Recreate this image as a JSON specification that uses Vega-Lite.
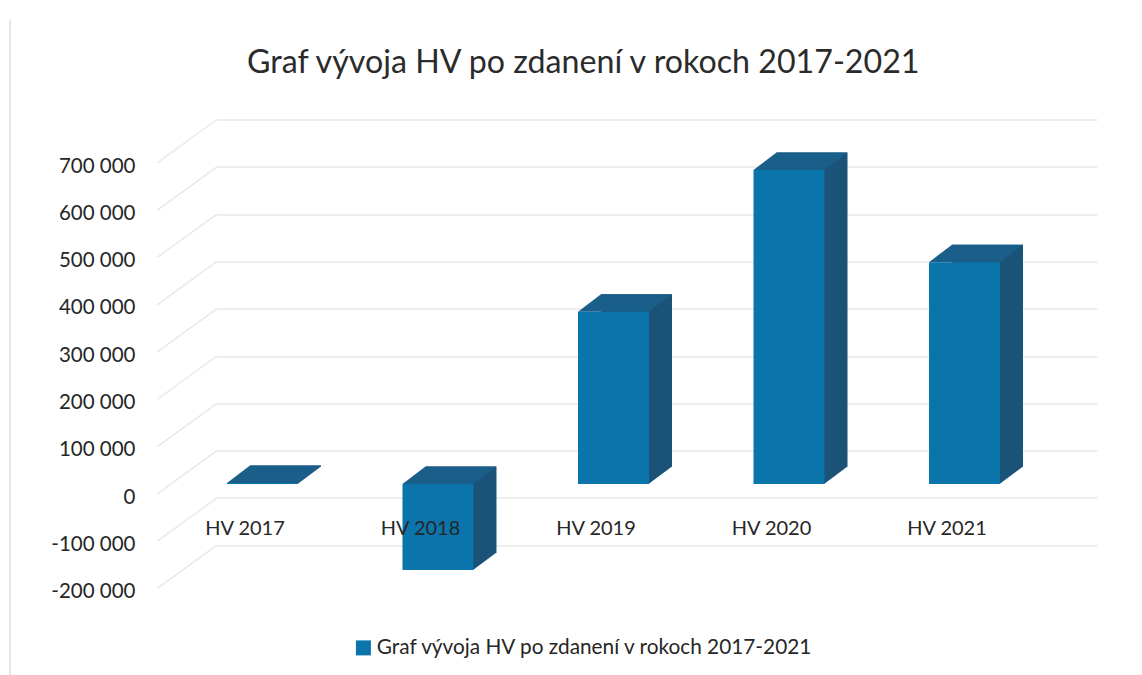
{
"$schema":"https://vega.github.io/schema/vega-lite/v6.json",
"autosize":"none",
"width":880,"height":425.7,
"padding":{"left":217,"top":119.5,"right":45,"bottom":129.8},
"background":"white",
"config":{"view":{"stroke":null},"font":"Lato"},
"title":{"text":"Graf vývoja HV po zdanení v rokoch 2017-2021","font":"Lato","fontSize":32.2,"fontWeight":"normal","color":"#2b2b2b","anchor":"start","frame":"group","dx":30,"offset":-65},
"data":{"values":[
{"label":"HV 2017","value":2000,"top":2000,"bottom":0,"series":"Graf vývoja HV po zdanení v rokoch 2017-2021"},
{"label":"HV 2018","value":-182000,"top":0,"bottom":-182000,"series":"Graf vývoja HV po zdanení v rokoch 2017-2021"},
{"label":"HV 2019","value":364000,"top":364000,"bottom":0,"series":"Graf vývoja HV po zdanení v rokoch 2017-2021"},
{"label":"HV 2020","value":664000,"top":664000,"bottom":0,"series":"Graf vývoja HV po zdanení v rokoch 2017-2021"},
{"label":"HV 2021","value":469000,"top":469000,"bottom":0,"series":"Graf vývoja HV po zdanení v rokoch 2017-2021"}
]},
"encoding":{
"x":{"field":"label","type":"nominal","sort":null,"title":null,
"scale":{"domain":["HV 2017","HV 2018","HV 2019","HV 2020","HV 2021"],"paddingInner":0,"paddingOuter":0.007},
"axis":{"domain":false,"ticks":false,"labelAngle":0,"labelFontSize":20,"labelColor":"#262626","labelFont":"Lato","labelOffset":-61,"labelPadding":-27,"zindex":1,"labelBaseline":"top","grid":false}}
},
"layer":[
{"data":{"values":[{"tick":700000}]},
 "mark":{"type":"point","shape":"M-296,-100 L-296,556","filled":false,"stroke":"#e6e6e6","strokeWidth":2,"size":4,"opacity":1},
 "encoding":{"x":{"datum":"HV 2017"},"y":{"field":"tick","type":"quantitative"}}},
{"data":{"values":[{"tick":700000},{"tick":600000},{"tick":500000},{"tick":400000},{"tick":300000},{"tick":200000},{"tick":100000},{"tick":0},{"tick":-100000},{"tick":-200000}]},
 "mark":{"type":"point","shape":"M-89,0 L-149,43.5","filled":false,"stroke":"#e9e9e9","strokeWidth":1.5,"size":4,"opacity":1},
 "encoding":{"x":{"datum":"HV 2017"},
 "y":{"field":"tick","type":"quantitative","title":null,
  "scale":{"domain":[-200000,700000]},
  "axis":{"values":[700000,600000,500000,400000,300000,200000,100000,0,-100000,-200000],"domain":false,"ticks":false,"grid":true,"gridColor":"#e9e9e9","gridWidth":1.5,"labelFontSize":20.5,"labelFont":"Lato","labelColor":"#262626","labelPadding":82,"labelOffset":46.5,"labelExpr":"replace(replace(format(datum.value,','),/,/g,' '),/\u2212/g,'-')"}}}},
{"mark":{"type":"bar","width":71,"color":"#1a5278","xOffset":-20.5,"yOffset":15.9,"y2Offset":15.9},
 "encoding":{"y":{"field":"top","type":"quantitative"},"y2":{"field":"bottom"}}},
{"mark":{"type":"point","shape":"M35,0 L58.5,-17.5 L58.5,-18 L35,-18 Z","filled":true,"color":"#1a5278","strokeWidth":0,"size":4,"opacity":1,"xOffset":-43.5,"yOffset":33.4},
 "encoding":{"y":{"field":"bottom","type":"quantitative"}}},
{"mark":{"type":"point","shape":"M-35.5,0 L-12.5,-17.5 L58.5,-17.5 L35.5,0 Z","filled":true,"color":"#1a5f8a","strokeWidth":0,"size":4,"opacity":1,"xOffset":-43.5,"yOffset":33.4},
 "encoding":{"y":{"field":"top","type":"quantitative"}}},
{"mark":{"type":"bar","width":71,"xOffset":-43.5,"yOffset":33.4,"y2Offset":33.4},
 "encoding":{"y":{"field":"top","type":"quantitative"},"y2":{"field":"bottom"},
 "color":{"field":"series","type":"nominal","title":null,"scale":{"range":["#0b75ab"]},
  "legend":{"orient":"none","legendX":136,"legendY":518,"symbolType":"square","symbolSize":225,"labelFontSize":20.8,"labelFont":"Lato","labelColor":"#262626","labelLimit":600,"labelOffset":3,"symbolOpacity":1,"columnPadding":0}}}}
]
}
